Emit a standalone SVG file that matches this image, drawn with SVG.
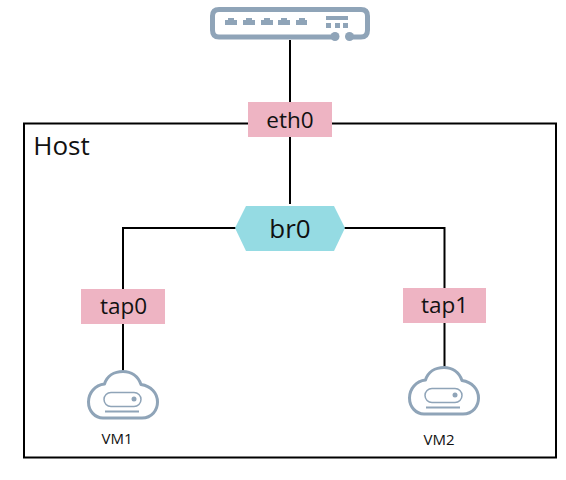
<svg xmlns="http://www.w3.org/2000/svg" width="566" height="480" viewBox="0 0 566 480">
<style>
text{font-family:"Open Sans","Liberation Sans",sans-serif;fill:#111;text-anchor:middle}
.l{font-size:22.500px}
.v{font-size:15px}
.line{fill:none;stroke:#000;stroke-width:2}
.box{fill:#eeb4c3}
.ic{fill:none;stroke:#8fa4b8;stroke-linecap:round;stroke-linejoin:round}
.f{fill:#8fa4b8}
</style>
<defs>
<g id="cloud">
<path class="ic" stroke-width="3" d="M-20 50H19C29 50 34.500 42 34.500 34C34.500 25 28 18 18 16.500C15 8 8 3.500 0 3.500C-9 3.500 -16 8 -18.500 16C-28 17 -34.500 25 -34.500 34C-34.500 43 -28 50 -20 50Z"/>
<rect x="-19" y="24.500" width="37" height="14" rx="7" fill="none" stroke="#8fa4b8" stroke-width="1.500"/>
<circle cx="11" cy="31" r="2.500" class="f"/>
<rect x="-18" y="42.500" width="34" height="2" class="f"/>
</g>
</defs>
<g id="connectors">
<path class="line" d="M290 40V204"/>
<path class="line" d="M236 228H123V371"/>
<path class="line" d="M344 228H444.500V367"/>
</g>
<g id="host"><rect x="24" y="123.500" width="532" height="334" fill="none" stroke="#000" stroke-width="2"/><text x="61.500" y="155" font-size="26">Host</text></g>
<g id="switch">
<path class="ic" stroke-width="5" d="M334 37H219Q212.500 37 212.500 30V16Q212.500 9.500 219 9.500H361Q367.500 9.500 367.500 16V30Q367.500 37 361 37H350"/>
<circle cx="335" cy="36.500" r="4.500" class="f"/><circle cx="349.500" cy="36.500" r="4.500" class="f"/>
<path class="f" d="M225 25V20H228V18H234V20H237V25ZM243 25V20H246V18H252V20H255V25ZM261 25V20H264V18H270V20H273V25ZM278 25V20H281V18H287V20H290V25ZM296 25V20H299V18H305V20H307V25Z"/>
<rect x="326" y="16" width="22" height="4" class="f"/><rect x="326" y="23" width="5" height="5" class="f"/><rect x="335" y="23" width="5" height="5" class="f"/><rect x="343" y="23" width="5" height="5" class="f"/>
</g>
<g id="eth0"><rect class="box" x="248" y="102" width="84" height="35"/><text class="l" x="290" y="127.500">eth0</text></g>
<g id="br0"><path d="M246 206H334L345 228L334 251H246L235 228Z" fill="#95dbe3"/><text x="290" y="238" font-size="26">br0</text></g>
<g id="tap0"><rect class="box" x="81" y="289" width="84" height="35"/><text class="l" x="123.500" y="314">tap0</text></g>
<g id="tap1"><rect class="box" x="403" y="288" width="83" height="35"/><text class="l" x="444.500" y="313">tap1</text></g>
<g id="vm1"><use href="#cloud" x="123" y="368"/><text class="v" x="117" y="444">VM1</text></g>
<g id="vm2"><use href="#cloud" x="444" y="364"/><text class="v" x="439" y="445">VM2</text></g>
</svg>
